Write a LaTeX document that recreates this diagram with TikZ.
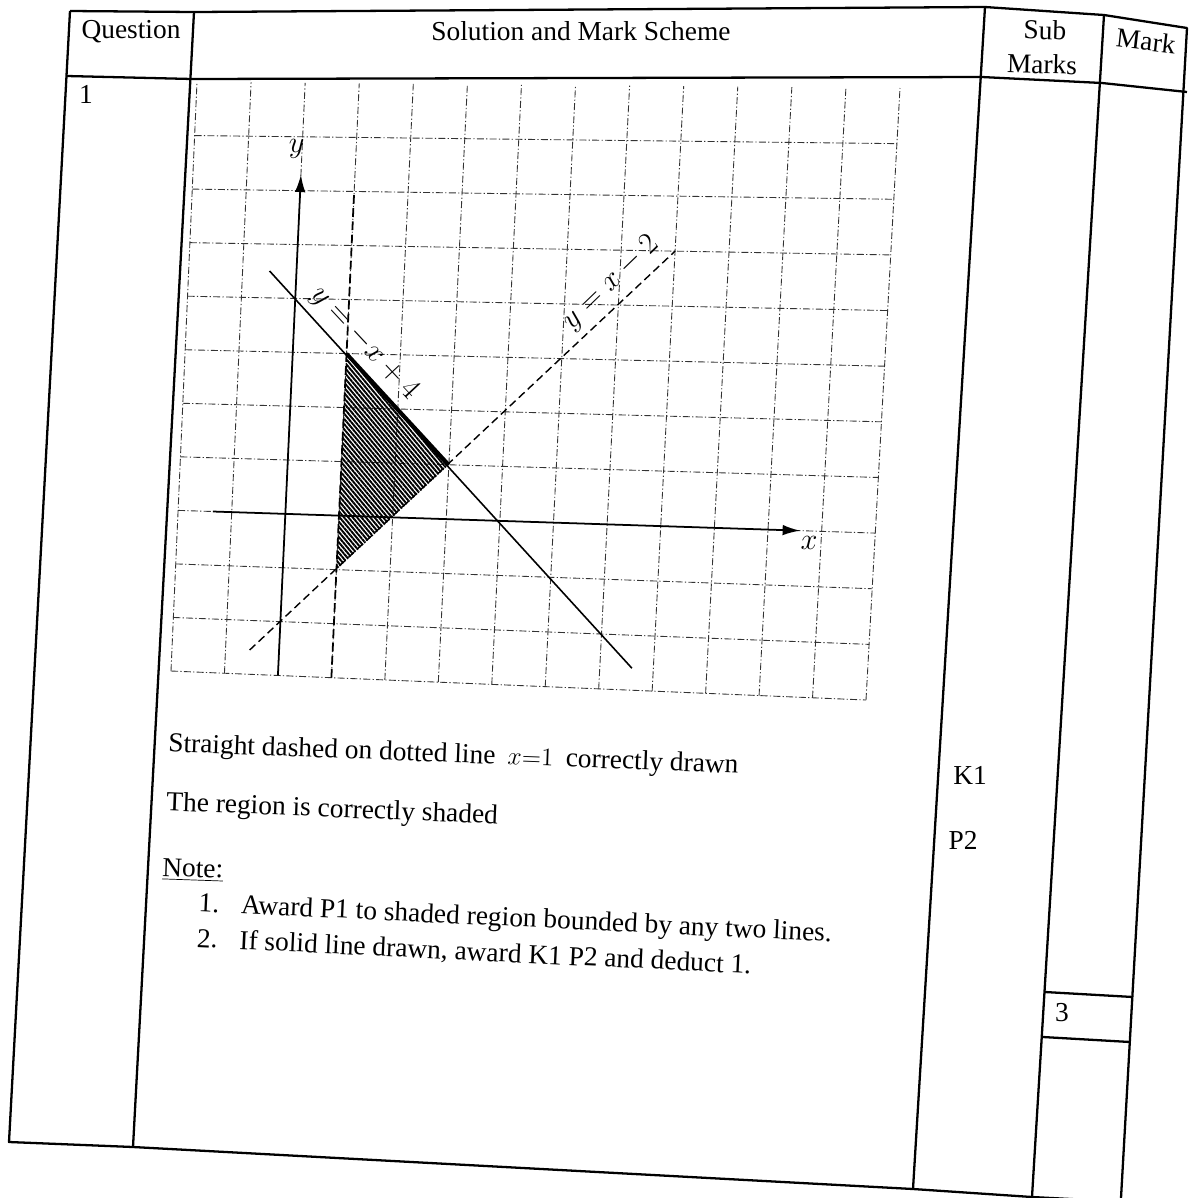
\documentclass[tikz,border=0pt]{standalone}
\usepackage{fontspec}
\setmainfont{Liberation Serif}
\usetikzlibrary{arrows.meta,patterns.meta}

\begin{document}
\begin{tikzpicture}[x=0.02cm,y=-0.02cm,
    tabline/.style={line width=1.3pt,line join=round},
    gridline/.style={black!80,line width=0.5pt,dash pattern=on 4pt off 1.3pt on 0.7pt off 1.3pt},
    axis/.style={line width=1pt,-{Latex[length=10pt,width=6pt]}},
    txt/.style={inner sep=0pt,font=\fontsize{15.6}{19}\selectfont},
    lbl/.style={inner sep=0pt,font=\fontsize{16}{19}\selectfont},
    declare function={
      gpx(\a,\b)=171+695*(\a+2)/13+(\b+3)/11*(26+8*(\a+2)/13);
      gpy(\a,\b)=671+29*(\a+2)/13-(\b+3)/11*(589+23*(\a+2)/13);}]
    \useasboundingbox (0,0) rectangle (1191,1198);

    % table
    \draw[tabline] (70,11) -- (194,12) -- (985,7) -- (1104,15) -- (1187,28) -- (1121,1198);
    \draw[tabline] (70,11) -- (9,1142) -- (133,1147) -- (913,1189) -- (1032,1197) -- (1090,1200);
    \draw[tabline] (67,76) -- (192,79) -- (982,77) -- (1102,83) -- (1187,92);
    \draw[tabline] (194,12) -- (133,1147);
    \draw[tabline] (985,7) -- (913,1189);
    \draw[tabline] (1104,15) -- (1032,1197);
    \draw[tabline] (1045,992) -- (1133,997);
    \draw[tabline] (1043,1037) -- (1130,1042);

    \node[txt] (qhead) at (131,32) {Question};
    \node[txt] (shead) at (581,31) {Solution and Mark Scheme};
    \node[txt,rotate=-1.5] (subhead) at (1045,30) {Sub};
    \node[txt,rotate=-1.5] (markshead) at (1042,64) {Marks};
    \node[txt,rotate=-6.5] (markhead) at (1146,41) {Mark};
    \node[txt] (qnum) at (86,94) {1};

    % grid
    \foreach \i in {-2,...,11}
        \draw[gridline] ({gpx(\i,-3)},{gpy(\i,-3)}) -- ({gpx(\i,8)},{gpy(\i,8)});
    \foreach \j in {-3,...,7}
        \draw[gridline] ({gpx(-2,\j)},{gpy(-2,\j)}) -- ({gpx(11,\j)},{gpy(11,\j)});

    % region and lines
    \coordinate (tA) at ({gpx(1,3)},{gpy(1,3)});
    \coordinate (tB) at ({gpx(3,1)},{gpy(3,1)});
    \coordinate (tC) at ({gpx(1,-1)},{gpy(1,-1)});
    \fill[pattern={Lines[angle=-50,distance=1.9pt,line width=1.1pt]}] (tA) -- (tB) -- (tC) -- cycle;

    \coordinate (s1) at ({gpx(-0.5,4.5)},{gpy(-0.5,4.5)});
    \coordinate (s2) at ({gpx(6.6,-2.6)},{gpy(6.6,-2.6)});
    \coordinate (d1) at ({gpx(-0.55,-2.55)},{gpy(-0.55,-2.55)});
    \coordinate (d2) at ({gpx(7,5)},{gpy(7,5)});
    \coordinate (v1) at ({gpx(1,-3)},{gpy(1,-3)});
    \coordinate (v2) at ({gpx(1,6)},{gpy(1,6)});
    \draw[line width=0.9pt] (s1) -- (s2);
    \draw[line width=2pt] (tA) -- (tB);
    \draw[line width=0.8pt,dash pattern=on 4.5pt off 2.5pt] (d1) -- (d2);
    \draw[line width=1pt,dash pattern=on 5pt off 2.5pt] (v1) -- (v2);

    % axes
    \coordinate (ya) at ({gpx(0,-3)},{gpy(0,-3)});
    \coordinate (yb) at ({gpx(0,6.3)},{gpy(0,6.3)});
    \coordinate (xa) at ({gpx(-1.35,0)},{gpy(-1.35,0)});
    \coordinate (xb) at ({gpx(9.6,0)},{gpy(9.6,0)});
    \draw[axis] (ya) -- (yb);
    \draw[axis] (xa) -- (xb);

    \node[lbl] (ylab) at ({gpx(-0.1,6.78)},{gpy(-0.1,6.78)}) {$y$};
    \node[lbl] (xlab) at ({gpx(9.78,-0.22)},{gpy(9.78,-0.22)}) {$x$};
    \node[lbl,rotate=-47] (lineA) at ({gpx(1.32,3.2)},{gpy(1.32,3.2)}) {$y=-x+4$};
    \node[lbl,rotate=44] (lineB) at ({gpx(5.84,4.4)},{gpy(5.84,4.4)}) {$y=x-2$};

    % scheme text
    \node[txt,anchor=west,rotate=-2.2] (t1) at (168,745) {Straight dashed on dotted line\hspace{0.45em}$x{=}1$\hspace{0.45em}correctly drawn};
    \node[txt,anchor=west,rotate=-2.3] (t2) at (166,804) {The region is correctly shaded};
    \node[txt,anchor=west,rotate=-2] (note) at (162,869) {\underline{Note:}};
    \node[txt,anchor=north west,rotate=-2.75,align=left,font=\fontsize{15.6}{20.4}\selectfont] (notes) at (199,892)
        {\makebox[1.55em][l]{1.}Award P1 to shaded region bounded by any two lines.\\
         \makebox[1.55em][l]{2.}If solid line drawn, award K1 P2 and deduct 1.};

    \node[txt] (k1) at (970,775) {K1};
    \node[txt] (p2) at (963,840) {P2};
    \node[txt] (tot) at (1062,1013) {3};
\end{tikzpicture}
\end{document}
